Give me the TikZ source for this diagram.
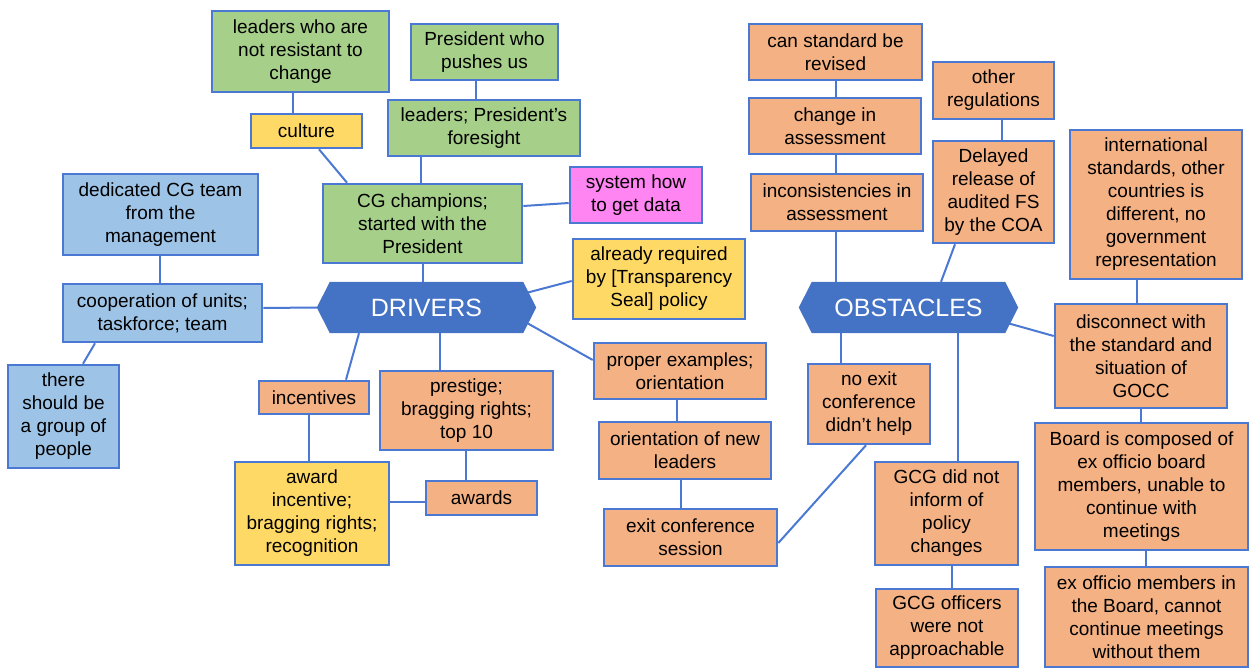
\documentclass[tikz,border=0pt]{standalone}
\usepackage{fontspec}
\setmainfont{Liberation Sans}
\begin{document}
\pgfdeclarelayer{bg}
\pgfdeclarelayer{hexl}
\pgfsetlayers{bg,hexl,main}
\definecolor{lineblue}{HTML}{4A78D2}
\definecolor{hexblue}{HTML}{4472C4}
\definecolor{gfill}{HTML}{A6CF8A}
\definecolor{ofill}{HTML}{F4B183}
\definecolor{yfill}{HTML}{FFD966}
\definecolor{bfill}{HTML}{9DC3E6}
\definecolor{mfill}{HTML}{FF85F2}
\tikzset{
  card/.style={draw=lineblue, line width=2.6pt, align=center, inner sep=1pt,
    font=\fontsize{19}{23}\selectfont, text=black},
  gbox/.style={card, fill=gfill},
  obox/.style={card, fill=ofill},
  ybox/.style={card, fill=yfill},
  bbox/.style={card, fill=bfill},
  mbox/.style={card, fill=mfill},
  hub/.style={inner sep=0pt, text=white, font=\fontsize{25}{28}\selectfont},
  link/.style={draw=lineblue, line width=2pt},
}
% name, style, x1, y1, x2, y2, text
\newcommand\mkbox[7]{%
  \node[#2, minimum width={(#5-#3)*1pt}, minimum height={(#6-#4)*1pt}]
    (#1) at ({(#3+#5)/2},{(#4+#6)/2}) {#7};}
\newcommand\hexfill[1]{%
  \begin{pgfonlayer}{hexl}
  \fill[hexblue] (#1.west) -- ([xshift=13pt]#1.north west) -- ([xshift=-13pt]#1.north east)
    -- (#1.east) -- ([xshift=-13pt]#1.south east) -- ([xshift=13pt]#1.south west) -- cycle;
  \end{pgfonlayer}}
\begin{tikzpicture}[x=1pt,y=-1pt]
\useasboundingbox (0,0) rectangle (1250,668);

% hubs
\mkbox{drv}{hub}{317}{282}{536}{333}{DRIVERS}
\mkbox{obs}{hub}{799}{282}{1018}{333}{OBSTACLES}
\hexfill{drv}
\hexfill{obs}

% drivers side
\mkbox{lnr}{gbox}{212}{11}{389}{92}{leaders who are\\not resistant to\\change}
\mkbox{cul}{ybox}{251}{114}{362}{148}{culture}
\mkbox{pwp}{gbox}{411}{24}{558}{80}{President who\\pushes us}
\mkbox{lpf}{gbox}{388}{100}{580}{156}{leaders; President's\\foresight}
\mkbox{cgc}{gbox}{323}{184}{522}{263}{CG champions;\\started with the\\President}
\mkbox{sys}{mbox}{570}{167}{702}{223}{system how\\to get data}
\mkbox{arq}{ybox}{573}{239}{745}{319}{already required\\by [Transparency\\Seal] policy}
\mkbox{ded}{bbox}{63}{174}{258}{255}{dedicated CG team\\from the\\management}
\mkbox{coo}{bbox}{63}{284}{262}{342}{cooperation of units;\\taskforce; team}
\mkbox{grp}{bbox}{8}{365}{119}{468}{there\\should be\\a group of\\people}
\mkbox{inc}{obox}{259}{381}{369}{414}{incentives}
\mkbox{pre}{obox}{380}{371}{553}{450}{prestige;\\bragging rights;\\top 10}
\mkbox{awi}{ybox}{235}{462}{389}{565}{award\\incentive;\\bragging rights;\\recognition}
\mkbox{awd}{obox}{426}{481}{537}{515}{awards}
\mkbox{pex}{obox}{594}{343}{766}{399}{proper examples;\\orientation}
\mkbox{onl}{obox}{599}{422}{771}{479}{orientation of new\\leaders}
\mkbox{ecs}{obox}{604}{509}{777}{566}{exit conference\\session}

% obstacles side
\mkbox{csr}{obox}{749}{24}{922}{80}{can standard be\\revised}
\mkbox{cia}{obox}{749}{98}{921}{154}{change in\\assessment}
\mkbox{ina}{obox}{751}{174}{923}{231}{inconsistencies in\\assessment}
\mkbox{oth}{obox}{933}{62}{1054}{119}{other\\regulations}
\mkbox{del}{obox}{933}{141}{1054}{243}{Delayed\\release of\\audited FS\\by the COA}
\mkbox{int}{obox}{1070}{130}{1242}{279}{international\\standards, other\\countries is\\different, no\\government\\representation}
\mkbox{dis}{obox}{1055}{304}{1227}{408}{disconnect with\\the standard and\\situation of\\GOCC}
\mkbox{nec}{obox}{808}{364}{930}{444}{no exit\\conference\\didn't help}
\mkbox{gcg}{obox}{875}{462}{1018}{565}{GCG did not\\inform of\\policy\\changes}
\mkbox{gco}{obox}{876}{589}{1018}{667}{GCG officers\\were not\\approachable}
\mkbox{brd}{obox}{1035}{423}{1248}{550}{Board is composed of\\ex officio board\\members, unable to\\continue with\\meetings}
\mkbox{exo}{obox}{1045}{567}{1248}{667}{ex officio members in\\the Board, cannot\\continue meetings\\without them}

\begin{pgfonlayer}{bg}
% drivers links
\draw[link] (lnr.south -| 293,0) -- (cul.north -| 293,0);
\draw[link] (cul.south -| 319,0) -- (cgc.north -| 347,0);
\draw[link] (pwp.south -| 476,0) -- (lpf.north -| 476,0);
\draw[link] (lpf.south -| 421,0) -- (cgc.north -| 421,0);
\draw[link] (cgc.east |- 0,206) -- (sys.west |- 0,203);
\draw[link] (cgc.south -| 423,0) -- (drv.north -| 423,0);
\draw[link] ([xshift=-14pt]drv.east |- 0,294) -- (arq.west |- 0,281);
\draw[link] ([xshift=-18pt]drv.east |- 0,318) -- (pex.west |- 0,360);
\draw[link] (coo.east |- 0,308) -- (drv.west);
\draw[link] (ded.south -| 160,0) -- (coo.north -| 160,0);
\draw[link] (coo.south -| 95,0) -- (grp.north -| 83,0);
\draw[link] (drv.south -| 359,0) -- (inc.north -| 346,0);
\draw[link] (drv.south -| 440,0) -- (pre.north -| 440,0);
\draw[link] (inc.south -| 309,0) -- (awi.north -| 309,0);
\draw[link] (pre.south -| 466,0) -- (awd.north -| 466,0);
\draw[link] (awi.east |- 0,502) -- (awd.west |- 0,502);
\draw[link] (pex.south -| 677,0) -- (onl.north -| 677,0);
\draw[link] (onl.south -| 681,0) -- (ecs.north -| 681,0);
% obstacles links
\draw[link] (nec.south -| 866,0) -- (ecs.east |- 0,543);
\draw[link] (obs.south -| 841,0) -- (nec.north -| 841,0);
\draw[link] (obs.south -| 958,0) -- (gcg.north -| 958,0);
\draw[link] (gcg.south -| 952,0) -- (gco.north -| 952,0);
\draw[link] (csr.south -| 836,0) -- (cia.north -| 836,0);
\draw[link] (cia.south -| 836,0) -- (ina.north -| 836,0);
\draw[link] (ina.south -| 836,0) -- (obs.north -| 836,0);
\draw[link] (oth.south -| 1002,0) -- (del.north -| 1002,0);
\draw[link] (del.south -| 955,0) -- (obs.north -| 941,0);
\draw[link] (int.south -| 1137,0) -- (dis.north -| 1137,0);
\draw[link] ([xshift=-18pt]obs.east |- 0,321) -- (dis.west |- 0,336);
\draw[link] (dis.south -| 1141,0) -- (brd.north -| 1141,0);
\draw[link] (brd.south -| 1146,0) -- (exo.north -| 1146,0);
\end{pgfonlayer}
\end{tikzpicture}
\end{document}
